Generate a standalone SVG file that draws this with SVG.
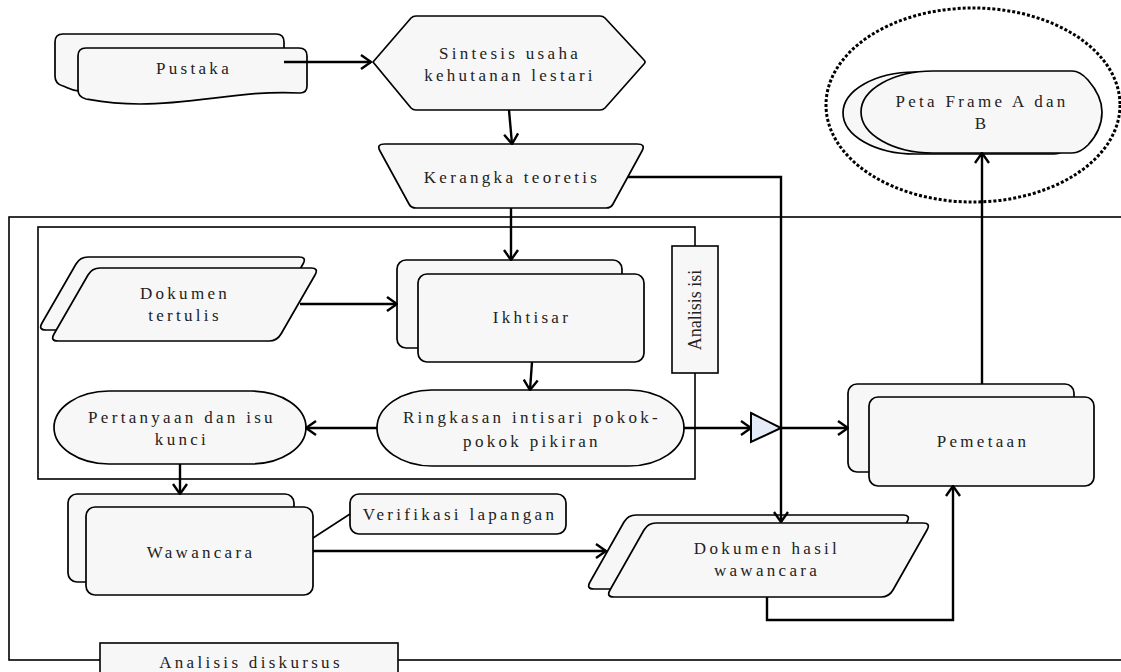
<svg xmlns="http://www.w3.org/2000/svg" width="1121" height="672" viewBox="0 0 1121 672">
<style>
.s{fill:#f7f7f7;stroke:#000;stroke-width:1.7}
.f{fill:none;stroke:#000;stroke-width:1.6}
.c{fill:none;stroke:#000;stroke-width:2.4}
.t{font-family:"Liberation Serif","Times New Roman",serif;font-size:17px;fill:#222;text-anchor:middle;letter-spacing:3.3px}
.n{letter-spacing:0}
</style>
<defs>
<marker id="a" viewBox="0 0 12 16" refX="11" refY="8" markerWidth="12" markerHeight="16" markerUnits="userSpaceOnUse" orient="auto">
<path d="M1,1 L11,8 L1,15" fill="none" stroke="#000" stroke-width="2.4"/>
</marker>
<path id="pg1" d="M100,268 L311,268 Q319,268 315,275 L281,334 Q277,341 269,341 L58,341 Q50,341 54,334 L88,275 Q92,268 100,268 Z"/>
<path id="pg2" d="M656,523 L923,523 Q931,523 927,530 L893,590 Q889,597 881,597 L614,597 Q606,597 610,590 L644,530 Q648,523 656,523 Z"/>
<path id="disp" d="M933,71 L1072,71 Q1080,71 1088,80 Q1102,96 1102,112 Q1102,130 1088,145 Q1080,153 1072,153 L933,153 A72,41 0 0 1 933,71 Z"/>
</defs>

<g id="frames">
<rect x="9" y="217" width="1130" height="443" class="f"/>
<rect x="38" y="227" width="657" height="252" class="f"/>
</g>

<g id="label-analisis-isi">
<rect x="672" y="246" width="46" height="127" fill="#f7f7f7" stroke="#000" stroke-width="1.6"/>
<text class="t n" transform="translate(701,310) rotate(-90)" style="font-size:18px">Analisis isi</text>
</g>

<g id="label-analisis-diskursus">
<rect x="100" y="643" width="298" height="40" fill="#f7f7f7" stroke="#000" stroke-width="1.6"/>
<text class="t" x="251" y="668">Analisis diskursus</text>
</g>

<g id="pustaka">
<path class="s" d="M63,34 L276,34 Q284,34 284,42 L284,82 C230,84 170,90 120,92 S70,88 63,86 Q55,84 55,76 L55,42 Q55,34 63,34 Z"/>
<path class="s" d="M86,48 L299,48 Q307,48 307,56 L307,86 Q307,93 300,93 C240,90 200,104 140,104 C110,104 92,100 86,99 Q78,97 78,90 L78,56 Q78,48 86,48 Z"/>
<text class="t" x="194" y="74">Pustaka</text>
</g>

<g id="sintesis">
<path class="s" d="M373,62 L411,18 Q413,16 416,16 L600,16 Q603,16 605,18 L644,60 Q646,62 644,64 L605,108 Q603,110 600,110 L416,110 Q413,110 411,108 Z"/>
<text class="t" x="510" y="59">Sintesis usaha</text>
<text class="t" x="510" y="81">kehutanan lestari</text>
</g>

<g id="kerangka">
<path class="s" d="M385,144 L637,144 Q646,144 642,151 L613,204 Q611,208 606,208 L416,208 Q411,208 409,204 L380,151 Q376,144 385,144 Z"/>
<text class="t" x="512" y="183">Kerangka teoretis</text>
</g>

<g id="peta-frame">
<use href="#disp" class="s" transform="translate(-18,1)"/>
<use href="#disp" class="s"/>
<text class="t" x="982" y="107">Peta Frame A dan</text>
<text class="t" x="982" y="129">B</text>
<ellipse cx="973" cy="105" rx="147" ry="97" fill="none" stroke="#000" stroke-width="3" stroke-dasharray="3 2"/>
</g>

<g id="dokumen-tertulis">
<use href="#pg1" class="s" transform="translate(-12,-11)"/>
<use href="#pg1" class="s"/>
<text class="t" x="185" y="299">Dokumen</text>
<text class="t" x="185" y="321">tertulis</text>
</g>

<g id="ikhtisar">
<rect x="397" y="260" width="225" height="88" rx="9" class="s"/>
<rect x="418" y="274" width="226" height="88" rx="9" class="s"/>
<text class="t" x="532" y="323">Ikhtisar</text>
</g>

<g id="ringkasan">
<rect x="377" y="390" width="307" height="76" rx="55" ry="38" class="s"/>
<text class="t" x="532" y="423">Ringkasan intisari pokok-</text>
<text class="t" x="532" y="447">pokok pikiran</text>
</g>

<g id="pertanyaan">
<rect x="54" y="391" width="252" height="73" rx="55" ry="36.5" class="s"/>
<text class="t" x="182" y="423">Pertanyaan dan isu</text>
<text class="t" x="182" y="445">kunci</text>
</g>

<g id="wawancara">
<rect x="68" y="494" width="226" height="88" rx="9" class="s"/>
<rect x="86" y="507" width="227" height="88" rx="9" class="s"/>
<text class="t" x="201" y="558">Wawancara</text>
</g>

<g id="verifikasi">
<rect x="350" y="494" width="216" height="40" rx="9" class="s"/>
<text class="t" x="460" y="520">Verifikasi lapangan</text>
</g>

<g id="dokumen-hasil">
<use href="#pg2" class="s" transform="translate(-20,-8)"/>
<use href="#pg2" class="s"/>
<text class="t" x="767" y="554">Dokumen hasil</text>
<text class="t" x="767" y="576">wawancara</text>
</g>

<g id="pemetaan">
<rect x="848" y="384" width="226" height="88" rx="9" class="s"/>
<rect x="869" y="397" width="225" height="89" rx="9" class="s"/>
<text class="t" x="983" y="447">Pemetaan</text>
</g>

<g id="junction">
<polygon points="751,413 781,428 751,442" fill="#e6ecf7" stroke="#000" stroke-width="2"/>
</g>

<g id="connectors">
<path class="c" d="M284,62 L371,62" marker-end="url(#a)"/>
<path class="c" d="M509,110 L512,144" marker-end="url(#a)"/>
<path class="c" d="M628,177 L781,177 L781,522" marker-end="url(#a)"/>
<path class="c" d="M511,208 L511,260" marker-end="url(#a)"/>
<path class="c" d="M300,304 L397,304" marker-end="url(#a)"/>
<path class="c" d="M532,362 L530,390" marker-end="url(#a)"/>
<path class="c" d="M377,428 L306,428" marker-end="url(#a)"/>
<path class="c" d="M180,464 L180,494" marker-end="url(#a)"/>
<path class="f" d="M313,538 L350,514"/>
<path class="c" d="M313,551 L606,551" marker-end="url(#a)"/>
<path class="c" d="M684,428 L751,428" marker-end="url(#a)"/>
<path class="c" d="M781,428 L848,428" marker-end="url(#a)"/>
<path class="c" d="M767,597 L767,620 L953,620 L953,486" marker-end="url(#a)"/>
<path class="c" d="M982,384 L982,153" marker-end="url(#a)"/>
</g>
</svg>
